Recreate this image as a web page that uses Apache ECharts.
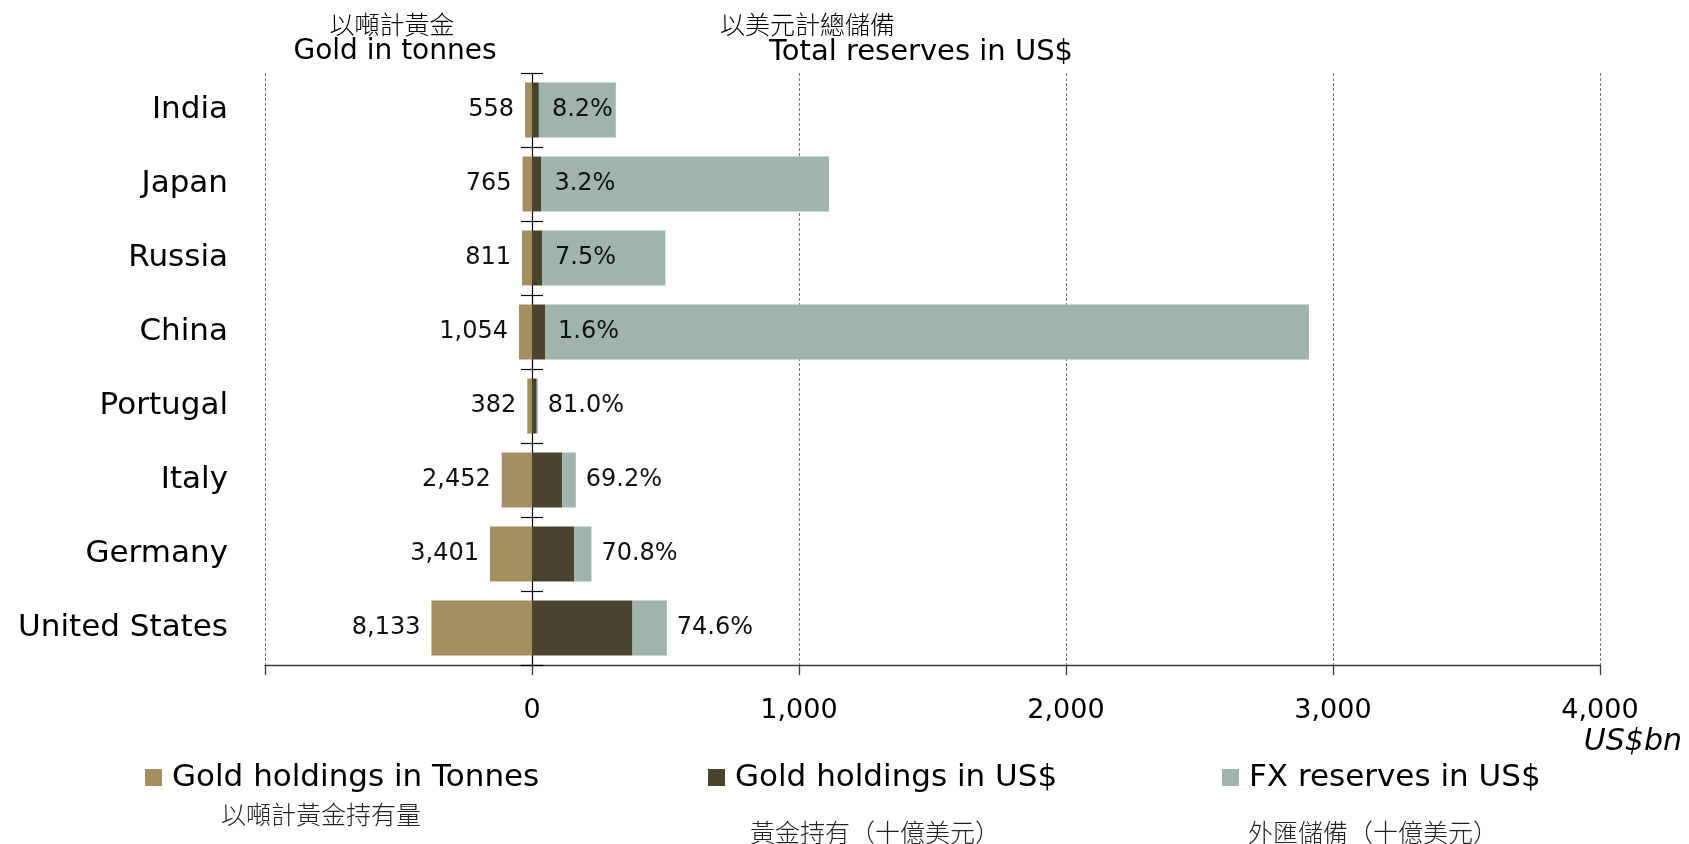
<!DOCTYPE html>
<html>
<head>
<meta charset="utf-8">
<title>Gold holdings and total reserves</title>
<script src="https://cdn.jsdelivr.net/npm/echarts@6/dist/echarts.min.js"></script>
<style>
  html, body { margin: 0; padding: 0; background: #ffffff; }
  #chart { width: 1689px; height: 844px; }
</style>
</head>
<body>
<div id="chart"></div>
<script>
// Countries, top to bottom
const countries = ['India', 'Japan', 'Russia', 'China', 'Portugal', 'Italy', 'Germany', 'United States'];
// Official gold holdings, tonnes
const goldTonnes = [558, 765, 811, 1054, 382, 2452, 3401, 8133];
// Gold holdings valued in US$ bn
const goldUsdBn = [25.8, 35.4, 37.5, 48.8, 17.7, 113.5, 157.5, 376.5];
// Foreign exchange reserves, US$ bn
const fxUsdBn = [288, 1077, 462, 2861, 4.1, 50.5, 65, 128.5];
// Gold as a share of total reserves, %
const goldSharePct = [8.2, 3.2, 7.5, 1.6, 81.0, 69.2, 70.8, 74.6];
// Value axis ticks, US$ bn
const valueTicks = [-1000, 0, 1000, 2000, 3000, 4000];

// Tonnes drawn on their own hidden axis, scaled so a tonne bar mirrors the gold value bar
const TONNES_PER_BN = 21.6;

const latin = 'DejaVu Sans';
const cjk = '"Noto Sans CJK TC", "Noto Sans CJK SC", sans-serif';
const colTonnes = '#A38F62';
const colGoldUsd = '#4A442E';
const colFx = '#A0B4AD';

const axisMin = valueTicks[0];
const axisMax = valueTicks[valueTicks.length - 1];
const step = valueTicks[1] - valueTicks[0];

const chart = echarts.init(document.getElementById('chart'), null, { renderer: 'canvas' });

const legendText = { fontFamily: latin, fontSize: 31, color: '#000', padding: [0, 0, 0, 5] };

const option = {
  animation: false,
  backgroundColor: '#ffffff',
  grid: { left: 265, right: 89, top: 73, bottom: 179, containLabel: false },
  xAxis: [
    {
      type: 'value',
      min: axisMin,
      max: axisMax,
      interval: step,
      axisLine: { show: true, onZero: false, lineStyle: { color: '#3a3a3a', width: 1.3 } },
      axisTick: { show: true, length: 10, lineStyle: { color: '#3a3a3a', width: 1.3 } },
      axisLabel: {
        fontFamily: latin, fontSize: 27, color: '#000', margin: 32,
        formatter: v => (v === axisMin ? '' : v.toLocaleString('en-US'))
      },
      splitLine: { show: true, lineStyle: { color: '#7a7a7a', type: [3, 2], width: 1 } }
    },
    {
      type: 'value',
      show: false,
      min: axisMin * TONNES_PER_BN,
      max: axisMax * TONNES_PER_BN,
      splitLine: { show: false }
    }
  ],
  yAxis: [
    {
      type: 'category',
      data: countries,
      inverse: true,
      position: 'left',
      axisLine: { show: false, onZero: false },
      axisTick: { show: false },
      splitLine: { show: false },
      axisLabel: { fontFamily: latin, fontSize: 31, color: '#000', margin: 37 }
    },
    {
      type: 'category',
      data: countries,
      inverse: true,
      position: 'left',
      axisLine: { show: true, onZero: true, onZeroAxisIndex: 0, lineStyle: { color: '#000', width: 1.2 } },
      axisTick: { show: true, length: 11, lineStyle: { color: '#000', width: 1.2 } },
      axisLabel: { show: false },
      splitLine: { show: false }
    },
    {
      type: 'category',
      data: countries,
      inverse: true,
      position: 'left',
      axisLine: { show: false, onZero: true, onZeroAxisIndex: 0 },
      axisTick: { show: true, inside: true, length: 11, lineStyle: { color: '#000', width: 1.2 } },
      axisLabel: { show: false },
      splitLine: { show: false }
    }
  ],
  legend: [
    { data: ['Gold holdings in Tonnes'], left: 140, top: 757, icon: 'rect',
      itemWidth: 17, itemHeight: 17, textStyle: legendText },
    { data: ['Gold holdings in US$'], left: 703, top: 757, icon: 'rect',
      itemWidth: 17, itemHeight: 17, textStyle: legendText },
    { data: ['FX reserves in US$'], left: 1217, top: 757, icon: 'rect',
      itemWidth: 17, itemHeight: 17, textStyle: legendText }
  ],
  series: [
    {
      name: 'Gold holdings in Tonnes',
      type: 'bar',
      xAxisIndex: 1,
      yAxisIndex: 0,
      stack: 'tonnes',
      barWidth: 55,
      barGap: '-100%',
      itemStyle: { color: colTonnes },
      data: goldTonnes.map(t => -t),
      label: {
        show: true, position: 'left', distance: 11,
        fontFamily: latin, fontSize: 24, color: '#111',
        formatter: p => goldTonnes[p.dataIndex].toLocaleString('en-US')
      },
      z: 2
    },
    {
      name: 'Gold holdings in US$',
      type: 'bar',
      xAxisIndex: 0,
      yAxisIndex: 0,
      stack: 'usd',
      barWidth: 55,
      barGap: '-100%',
      itemStyle: { color: colGoldUsd },
      data: goldUsdBn,
      z: 2
    },
    {
      name: 'FX reserves in US$',
      type: 'bar',
      xAxisIndex: 0,
      yAxisIndex: 0,
      stack: 'usd',
      barWidth: 55,
      barGap: '-100%',
      itemStyle: { color: colFx },
      data: fxUsdBn.map((v, i) => {
        const outside = goldSharePct[i] > 50;
        return {
          value: v,
          label: { position: outside ? 'right' : 'insideLeft', distance: outside ? 10 : 13 }
        };
      }),
      label: {
        show: true,
        fontFamily: latin, fontSize: 24, color: '#111',
        formatter: p => goldSharePct[p.dataIndex].toFixed(1) + '%'
      },
      z: 2
    }
  ],
  graphic: [
    { type: 'text', x: 392, y: 24,
      style: { text: '以噸計黃金', font: '300 25px ' + cjk, fill: '#000', align: 'center', verticalAlign: 'middle' } },
    { type: 'text', x: 395, y: 52,
      style: { text: 'Gold in tonnes', font: '28px "DejaVu Sans"', fill: '#000', align: 'center', verticalAlign: 'middle' } },
    { type: 'text', x: 720, y: 24,
      style: { text: '以美元計總儲備', font: '300 25px ' + cjk, fill: '#000', align: 'left', verticalAlign: 'middle' } },
    { type: 'text', x: 769, y: 52,
      style: { text: 'Total reserves in US$', font: '29px "DejaVu Sans"', fill: '#000', align: 'left', verticalAlign: 'middle' } },
    { type: 'text', x: 1682, y: 742,
      style: { text: 'US$bn', font: 'italic 30px "DejaVu Sans"', fill: '#000', align: 'right', verticalAlign: 'middle' } },
    { type: 'text', x: 221, y: 814,
      style: { text: '以噸計黃金持有量', font: '300 25px ' + cjk, fill: '#222', align: 'left', verticalAlign: 'middle' } },
    { type: 'text', x: 750, y: 832,
      style: { text: '黃金持有（十億美元）', font: '300 25px ' + cjk, fill: '#222', align: 'left', verticalAlign: 'middle' } },
    { type: 'text', x: 1248, y: 832,
      style: { text: '外匯儲備（十億美元）', font: '300 25px ' + cjk, fill: '#222', align: 'left', verticalAlign: 'middle' } }
  ]
};

chart.setOption(option);
</script>
</body>
</html>
